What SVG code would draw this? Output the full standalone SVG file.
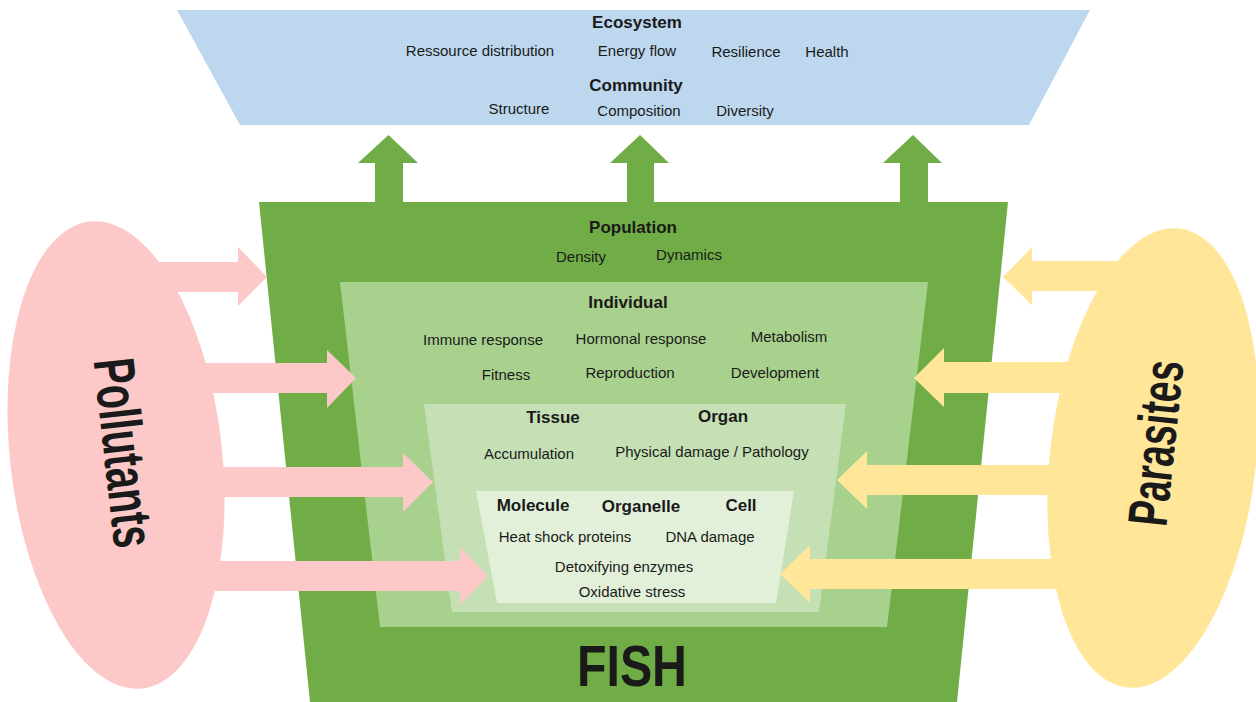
<svg xmlns="http://www.w3.org/2000/svg" width="1256" height="702" viewBox="0 0 1256 702">
<style>
text{font-family:"Liberation Sans",Arial,sans-serif;fill:#1a1a1a}
.r{font-size:15px;text-anchor:middle}
.b{font-size:17px;font-weight:bold;text-anchor:middle}
.big{font-weight:bold;text-anchor:middle}
.pink{fill:#fcc8c8}
.yel{fill:#ffe699}
.up{fill:#70ad47}
</style>
<rect width="1256" height="702" fill="#ffffff"/>
<g id="pollutants">
<ellipse cx="116" cy="455" rx="106" ry="235" transform="rotate(-6.4 116 455)" class="pink"/>
<text class="big" x="0" y="0" font-size="58" textLength="190" lengthAdjust="spacingAndGlyphs" transform="translate(104 455) rotate(83.6)">Pollutants</text>
</g>
<g id="parasites">
<ellipse cx="1153" cy="458" rx="103" ry="231" transform="rotate(6.5 1153 458)" class="yel"/>
<text class="big" x="0" y="0" font-size="56" textLength="166" lengthAdjust="spacingAndGlyphs" transform="translate(1175 445) rotate(-84)">Parasites</text>
</g>
<g id="ecosystem">
<polygon points="177,10 1090,10 1029,125 240,125" fill="#bdd7ee"/>
<text class="b" x="637" y="28">Ecosystem</text>
<text class="r" x="480" y="56">Ressource distribution</text>
<text class="r" x="637" y="56">Energy flow</text>
<text class="r" x="746" y="57">Resilience</text>
<text class="r" x="827" y="57">Health</text>
<text class="b" x="636" y="91">Community</text>
<text class="r" x="519" y="114">Structure</text>
<text class="r" x="639" y="116">Composition</text>
<text class="r" x="745" y="116">Diversity</text>
</g>
<g id="connectors">
<polygon class="up" points="375,205 375,163 358,163 388.5,135 418,163 403,163 403,205"/>
<polygon class="up" points="627,205 627,163 610,163 640,135 669,163 654,163 654,205"/>
<polygon class="up" points="900,205 900,163 883,163 913,135 942,163 928,163 928,205"/>
</g>
<g id="fish">
<polygon points="259,202 1008,202 957,702 310,702" fill="#70ad47"/>
<text class="big" x="632" y="686" font-size="57" textLength="110" lengthAdjust="spacingAndGlyphs">FISH</text>
</g>
<g id="population">
<text class="b" x="633" y="233">Population</text>
<text class="r" x="581" y="262">Density</text>
<text class="r" x="689" y="260">Dynamics</text>
</g>
<g id="individual">
<polygon points="340,282 928,282 887,627 380,627" fill="#a9d18e"/>
<text class="b" x="628" y="308">Individual</text>
<text class="r" x="483" y="345">Immune response</text>
<text class="r" x="641" y="344">Hormonal response</text>
<text class="r" x="789" y="342">Metabolism</text>
<text class="r" x="506" y="380">Fitness</text>
<text class="r" x="630" y="378">Reproduction</text>
<text class="r" x="775" y="378">Development</text>
</g>
<g id="tissue-organ">
<polygon points="424,404 846,404 819,612 452,612" fill="#c5e0b4"/>
<text class="b" x="553" y="423">Tissue</text>
<text class="b" x="723" y="422">Organ</text>
<text class="r" x="529" y="459">Accumulation</text>
<text class="r" x="712" y="457">Physical damage / Pathology</text>
</g>
<g id="molecule-organelle-cell">
<polygon points="476,491 794,491 776,603 497,603" fill="#e2f0d9"/>
<text class="b" x="533" y="511" font-size="18">Molecule</text>
<text class="b" x="641" y="512">Organelle</text>
<text class="b" x="741" y="511">Cell</text>
<text class="r" x="565" y="542">Heat shock proteins</text>
<text class="r" x="710" y="542">DNA damage</text>
<text class="r" x="624" y="572">Detoxifying enzymes</text>
<text class="r" x="632" y="597">Oxidative stress</text>
</g>
<g id="connectors-side">
<polygon class="pink" points="110,262 238,262 238,247 267,277 238,306 238,292 110,292"/>
<polygon class="pink" points="150,363 327,363 327,350 356,378 327,408 327,393 150,393"/>
<polygon class="pink" points="150,467 403,467 403,453 433,482 403,512 403,497 150,497"/>
<polygon class="pink" points="150,561 460,561 460,547 488,576 460,605 460,591 150,591"/>
<polygon class="yel" points="1150,261 1032,261 1032,247 1003,277 1032,305 1032,291 1150,291"/>
<polygon class="yel" points="1120,362 944,362 944,348 914,378 944,407 944,393 1120,393"/>
<polygon class="yel" points="1120,465 867,465 867,451 837,480 867,509 867,495 1120,495"/>
<polygon class="yel" points="1120,559 810,559 810,545 780,574 810,603 810,589 1120,589"/>
</g>
</svg>
